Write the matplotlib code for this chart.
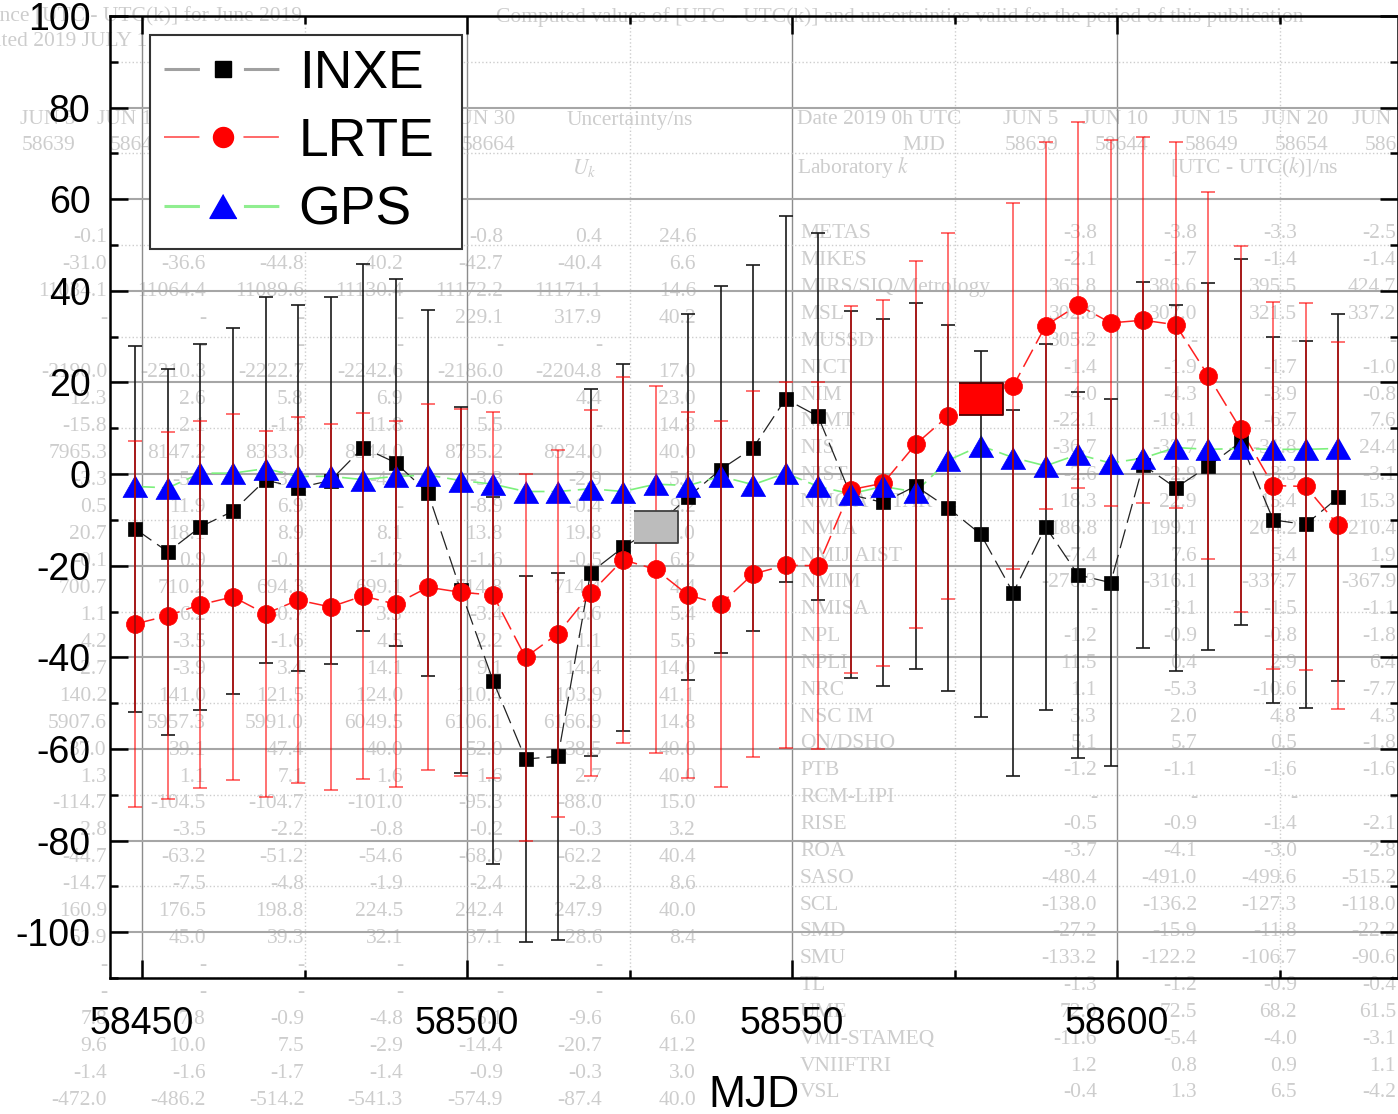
import matplotlib
matplotlib.use('Agg')
import matplotlib.pyplot as plt
from matplotlib.lines import Line2D
from matplotlib.ticker import MultipleLocator
import numpy as np

plt.rcParams['axes.unicode_minus'] = False
plt.rcParams['lines.scale_dashes'] = False
plt.rcParams['mathtext.fontset'] = 'stix'

# data (MJD every 5 days, values in ns)
mjd = [58449, 58454, 58459, 58464, 58469, 58474, 58479, 58484, 58489, 58494,
       58499, 58504, 58509, 58514, 58519, 58524, 58529, 58534, 58539, 58544,
       58549, 58554, 58559, 58564, 58569, 58574, 58579, 58584, 58589, 58594,
       58599, 58604, 58609, 58614, 58619, 58624, 58629, 58634]

inxe = [-12.0, -17.0, -11.5, -8.1, -1.3, -3.0, -1.4, 5.8, 2.5, -4.1,
        -25.3, -45.1, -62.2, -61.6, -21.5, -16.0, -11.6, -5.0, 1.0, 5.7,
        16.4, 12.6, -4.5, -6.2, -2.6, -7.4, -13.1, -25.9, -11.5, -22.0,
        -23.7, 2.0, -3.0, 1.7, 7.0, -10.0, -11.0, -5.1]

lrte = [-32.7, -30.9, -28.5, -26.8, -30.5, -27.5, -29.0, -26.6, -28.4, -24.7,
        -25.8, -26.4, -40.0, -34.8, -26.0, -18.7, -20.8, -26.4, -28.4, -21.8,
        -19.9, -20.0, -3.4, -2.0, 6.5, 12.7, 16.3, 19.2, 32.4, 36.9,
        33.0, 33.6, 32.6, 21.5, 9.8, -2.5, -2.7, -11.2]

gps = [-2.7, -3.0, 0.2, 0.2, 1.2, -0.5, -0.5, -1.2, -0.5, -0.2,
       -1.4, -2.2, -3.8, -3.8, -3.2, -3.8, -2.2, -2.5, -0.5, -2.3,
       0.2, -2.7, -4.3, -2.7, -3.9, 3.0, 6.2, 3.6, 1.8, 4.3,
       2.4, 3.5, 5.8, 5.4, 5.6, 5.4, 5.4, 5.6]

u_inxe = 40.0
u_lrte = 40.0
inxe_boxed = 16   # point drawn as a grey box
lrte_boxed = 26   # point drawn as a red box

# faded table printed behind the chart
hdr_top_left = 'ence [UTC - UTC(k)] for June 2019'
hdr_top_left2 = 'ated 2019 JULY 1'
hdr_top_right = 'Computed values of [UTC - UTC(k)] and uncertainties valid for the period of this publication'
left_dates = ['JUN 5', 'JUN 10', 'JUN 15', 'JUN 20', 'JUN 25', 'JUN 30']
left_mjds = ['58639', '58644', '58649', '58654', '58659', '58664']
right_dates = ['JUN 5', 'JUN 10', 'JUN 15', 'JUN 20', 'JUN 25']
right_mjds = ['58639', '58644', '58649', '58654', '58659']
left_rows = [
    ['-0.1', '-0.4', '-0.6', '-0.9', '-0.8', '0.4', '24.6'],
    ['-31.0', '-36.6', '-44.8', '-40.2', '-42.7', '-40.4', '6.6'],
    ['11034.1', '11064.4', '11089.6', '11130.4', '11172.2', '11171.1', '14.6'],
    ['-', '-', '-', '-', '229.1', '317.9', '40.2'],
    ['', '-', '-', '-', '-', '-', ''],
    ['-2190.0', '-2210.3', '-2222.7', '-2242.6', '-2186.0', '-2204.8', '17.0'],
    ['12.3', '2.6', '5.8', '6.9', '-0.6', '4.4', '23.0'],
    ['-15.8', '2.1', '-1.3', '11.8', '5.5', '-', '14.8'],
    ['7965.3', '8147.2', '8333.0', '8544.0', '8735.2', '8924.0', '40.0'],
    ['-3.3', '-5.5', '-3.7', '-4.1', '-3.3', '-2.9', '5.0'],
    ['0.5', '11.9', '6.9', '-', '-8.9', '-0.4', '9.2'],
    ['20.7', '18.1', '8.9', '8.1', '13.8', '19.8', '5.0'],
    ['-0.1', '0.9', '-0.1', '-1.2', '-1.6', '-0.5', '6.2'],
    ['700.7', '710.2', '694.3', '699.1', '714.8', '714.4', '4.4'],
    ['1.1', '6.2', '-0.7', '3.5', '-3.4', '6.6', '5.4'],
    ['4.2', '-3.5', '-1.6', '4.5', '2.2', '1.1', '5.6'],
    ['-2.7', '-3.9', '3.4', '14.1', '9.1', '14.4', '14.0'],
    ['140.2', '141.0', '121.5', '124.0', '110.4', '103.9', '41.1'],
    ['5907.6', '5957.3', '5991.0', '6049.5', '6106.1', '6166.9', '14.8'],
    ['37.0', '39.1', '47.4', '40.0', '52.0', '38.5', '40.0'],
    ['1.3', '1.1', '7.1', '1.6', '1.6', '2.7', '40.0'],
    ['-114.7', '-104.5', '-104.7', '-101.0', '-95.3', '-88.0', '15.0'],
    ['-2.8', '-3.5', '-2.2', '-0.8', '-0.2', '-0.3', '3.2'],
    ['-44.7', '-63.2', '-51.2', '-54.6', '-68.0', '-62.2', '40.4'],
    ['-14.7', '-7.5', '-4.8', '-1.9', '-2.4', '-2.8', '8.6'],
    ['160.9', '176.5', '198.8', '224.5', '242.4', '247.9', '40.0'],
    ['51.9', '45.0', '39.3', '32.1', '37.1', '28.6', '8.4'],
    ['-', '-', '-', '-', '-', '-', ''],
    ['-', '-', '-', '-', '-', '-', ''],
    ['7.8', '7.8', '-0.9', '-4.8', '-5.1', '-9.6', '6.0'],
    ['9.6', '10.0', '7.5', '-2.9', '-14.4', '-20.7', '41.2'],
    ['-1.4', '-1.6', '-1.7', '-1.4', '-0.9', '-0.3', '3.0'],
    ['-472.0', '-486.2', '-514.2', '-541.3', '-574.9', '-87.4', '40.0'],
]
labs = ['METAS', 'MIKES', 'MIRS/SIQ/Metrology', 'MSL', 'MUSSD', 'NICT', 'NIM',
        'NIMT', 'NIS', 'NIST', 'NMC A*STAR', 'NMIA', 'NMIJ AIST', 'NMIM',
        'NMISA', 'NPL', 'NPLI', 'NRC', 'NSC IM', 'ON/DSHO', 'PTB', 'RCM-LIPI',
        'RISE', 'ROA', 'SASO', 'SCL', 'SMD', 'SMU', 'TL', 'UME', 'VMI-STAMEQ',
        'VNIIFTRI', 'VSL']
right_rows = [
    ['-3.8', '-3.8', '-3.3', '-2.5'], ['-2.1', '-1.7', '-1.4', '-1.4'],
    ['365.8', '386.6', '395.5', '424.7'], ['302.8', '307.0', '321.5', '337.2'],
    ['305.2', '-', '-', '-'], ['-1.4', '-1.9', '-1.7', '-1.0'],
    ['-4.0', '-4.3', '-3.9', '-0.8'], ['-22.1', '-19.1', '-6.7', '7.6'],
    ['-36.7', '-32.7', '-31.8', '24.4'], ['-2.6', '-2.9', '-3.3', '-3.1'],
    ['18.3', '22.9', '15.4', '15.3'], ['186.8', '199.1', '204.2', '210.4'],
    ['-7.4', '7.6', '5.4', '1.9'], ['-276.3', '-316.1', '-337.7', '-367.9'],
    ['-', '-3.1', '-1.5', '-1.1'], ['-1.2', '-0.9', '-0.8', '-1.8'],
    ['11.5', '0.4', '2.9', '6.4'], ['1.1', '-5.3', '-10.6', '-7.7'],
    ['3.3', '2.0', '4.8', '4.3'], ['5.1', '5.7', '0.5', '-1.8'],
    ['-1.2', '-1.1', '-1.6', '-1.6'], ['-', '-', '-', '-'],
    ['-0.5', '-0.9', '-1.4', '-2.1'], ['-3.7', '-4.1', '-3.0', '-2.8'],
    ['-480.4', '-491.0', '-499.6', '-515.2'], ['-138.0', '-136.2', '-127.3', '-118.0'],
    ['-27.2', '-15.9', '-11.8', '-22.2'], ['-133.2', '-122.2', '-106.7', '-90.6'],
    ['-1.3', '-1.2', '-0.9', '-0.4'], ['72.9', '72.5', '68.2', '61.5'],
    ['-11.6', '-5.4', '-4.0', '-3.1'], ['1.2', '0.8', '0.9', '1.1'],
    ['-0.4', '1.3', '6.5', '-4.2'],
]

W, H = 1398, 1114
BG = '#cdcdcd'
fig = plt.figure(figsize=(W / 100, H / 100), dpi=100)


def bg(x, y, s, ha='right', **kw):
    # text of the table behind the plot, placed in pixels
    fig.text(x / W, 1 - y / H, s, ha=ha, va='center', color=BG, fontsize=15.5,
             family='Liberation Serif', zorder=-1, **kw)


bg(-10, 17, hdr_top_left, ha='left')
bg(-8, 42, hdr_top_left2, ha='left')
bg(496, 17, hdr_top_right, ha='left')
for i in range(len(left_dates)):
    bg(75 + 88 * i, 120, left_dates[i])
    bg(75 + 88 * i, 145, left_mjds[i])
bg(567, 120, 'Uncertainty/ns', ha='left')
bg(572, 168, '$U_k$', ha='left')
bg(797, 120, 'Date 2019 0h UTC', ha='left')
bg(945, 145, 'MJD')
bg(797, 168, 'Laboratory $k$', ha='left')
for i in range(len(right_dates)):
    bg(1058 + 90 * i, 120, right_dates[i])
    bg(1058 + 90 * i, 145, right_mjds[i])
bg(1170, 168, '[UTC - UTC($k$)]/ns', ha='left')

left_cols = [107, 206, 304, 403, 503, 602, 696]
for r, row in enumerate(left_rows):
    for c, s in enumerate(row):
        bg(left_cols[c], 238 + 26.95 * r, s)

right_cols = [1097, 1197, 1297, 1396]
for r in range(len(labs)):
    y = 234 + 26.84 * r
    bg(800, y, labs[r], ha='left')
    for c, s in enumerate(right_rows[r]):
        bg(right_cols[c], y, s)

# the chart itself
ax = fig.add_axes([110 / W, 1 - 978 / H, (W - 110) / W, (978 - 16) / H])
ax.set_facecolor('none')

x = np.array(mjd)
yi = np.array(inxe)
yl = np.array(lrte)
yg = np.array(gps)
keep_i = np.arange(len(x)) != inxe_boxed
keep_l = np.arange(len(x)) != lrte_boxed

dash = (0, (14, 5))
ax.plot(x, yi, color='#222222', lw=0.9, ls=dash, zorder=2)
ax.plot(x, yl, color='#ff2020', lw=1.1, ls=dash, zorder=2)
ax.plot(x, yg, color='#7cf07c', lw=1.2, ls=dash, zorder=2)

tri = [(0, 0.88), (-1, -0.88), (1, -0.88)]
box = [(-1, -0.73), (1, -0.73), (1, 0.73), (-1, 0.73)]

ax.plot(x[keep_i], yi[keep_i], ls='none', marker='s', ms=10.5, mfc='black',
        mec='black', mew=0.5, zorder=3)
ax.plot(x[keep_l], yl[keep_l], ls='none', marker='o', ms=13, mfc='red',
        mec='red', mew=0.5, zorder=3)
ax.plot(x, yg, ls='none', marker=tri, ms=18, mfc='blue', mec='blue',
        mew=0.5, zorder=3.2)

ax.errorbar(x[keep_i], yi[keep_i], yerr=u_inxe, fmt='none', ecolor='#1a1a1a',
            elinewidth=1.2, capsize=4.8, capthick=1.2, zorder=4)
ax.errorbar(x[keep_l], yl[keep_l], yerr=u_lrte, fmt='none', ecolor='red',
            elinewidth=1.3, capsize=4.8, capthick=1.3, alpha=0.6, zorder=4.1)

ax.plot(x[inxe_boxed], yi[inxe_boxed], ls='none', marker=box, ms=32,
        mfc='#bcbcbc', mec='#404040', mew=1.3, zorder=4.5)
ax.plot(x[lrte_boxed], yl[lrte_boxed], ls='none', marker=box, ms=32,
        mfc='#ff0000', mec='#500000', mew=1.3, zorder=4.5)

ax.set_xlim(58445.08, 58643.2)
ax.set_ylim(-110, 100)
ax.xaxis.set_major_locator(MultipleLocator(50))
ax.xaxis.set_minor_locator(MultipleLocator(25))
ax.yaxis.set_major_locator(MultipleLocator(20))
ax.yaxis.set_minor_locator(MultipleLocator(10))

ax.yaxis.grid(True, which='major', color='#a6a6a6', lw=1.5, zorder=0)
ax.xaxis.grid(True, which='major', color='#8c8c8c', lw=1.0, zorder=0)
ax.grid(True, which='minor', color='#cdcdcd', lw=1.0, ls=':', zorder=0)
ax.set_axisbelow(True)

for sp in ax.spines.values():
    sp.set_linewidth(1.8)
ax.tick_params(which='both', direction='in', top=True, right=True, width=1.8)
ax.tick_params(which='major', length=13, labelsize=27)
ax.tick_params(axis='y', which='major', pad=14)
ax.tick_params(axis='x', which='major', pad=20)
ax.tick_params(which='minor', length=6)
for lab in ax.get_xticklabels() + ax.get_yticklabels():
    lab.set_family('Liberation Sans')
ax.set_xlabel('MJD', fontsize=32, family='Liberation Sans', labelpad=24)

leg_dash = (0, (25.5, 31.7))
handles = [
    Line2D([], [], color='#a0a0a0', lw=2.2, ls=leg_dash, marker='s',
           ms=11.5, mfc='black', mec='black'),
    Line2D([], [], color='#ff4040', lw=1.1, ls=leg_dash, marker='o',
           ms=14.4, mfc='red', mec='red'),
    Line2D([], [], color='#90ee90', lw=2.2, ls=leg_dash, marker=tri,
           ms=19.5, mfc='blue', mec='blue'),
]
leg = ax.legend(handles, ['INXE', 'LRTE', 'GPS'], loc='upper left',
                bbox_to_anchor=(150 / W, 1 - 245 / H, 312 / W, 210 / H),
                bbox_transform=fig.transFigure, mode='expand',
                prop={'family': 'Liberation Sans', 'size': 38.5},
                handlelength=2.2, handletextpad=0.32, borderpad=0.26,
                labelspacing=0.34, borderaxespad=0, fancybox=False,
                framealpha=1, edgecolor='#333333')
leg.get_frame().set_linewidth(1.5)

fig.savefig('out.png', dpi=100)
